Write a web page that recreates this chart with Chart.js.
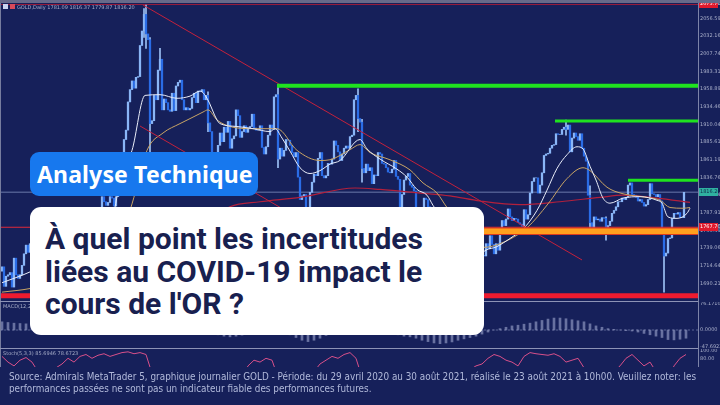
<!DOCTYPE html>
<html lang="fr">
<head>
<meta charset="utf-8">
<title>GOLD - Analyse Technique</title>
<script src="https://cdn.jsdelivr.net/npm/chart.js@4.4.1/dist/chart.umd.min.js"></script>
<style>
  html, body { margin: 0; padding: 0; }
  body {
    position: relative; width: 720px; height: 405px; overflow: hidden;
    background: #16205a; font-family: 'Noto Sans', 'DejaVu Sans', sans-serif;
  }
  .abs { position: absolute; }
  canvas { position: absolute; left: 0; }
  #topbar { left: 0; top: 0; width: 720px; height: 3px; background: #666a8a; }
  #leftbar { left: 0; top: 3px; width: 1px; height: 364px; background: #767c9e; }
  #axisline { left: 698px; top: 3px; width: 1px; height: 364px; background: #7c83a8; }
  .divider { left: 0; width: 698px; height: 1px; background: #8d93b6; }
  .mini { font: 5px 'DejaVu Sans', sans-serif; color: #a7adc8; white-space: nowrap; }
  .icon { top: 4px; width: 5px; height: 5px; }
  #tag {
    left: 30px; top: 152px; width: 228px; height: 44px; border-radius: 9px;
    background: #1778ee; color: #fff; font: 700 23px 'Noto Sans', sans-serif;
    letter-spacing: 0.15px; line-height: 44px; padding-left: 7px;
    box-sizing: border-box; white-space: nowrap;
  }
  #card { left: 30px; top: 207px; width: 454px; height: 128px; border-radius: 11px; background: #fff; }
  #headline {
    position: absolute; left: 15px; top: 16px; font: 700 30px Roboto, sans-serif;
    line-height: 32.5px; color: #18204f; white-space: nowrap;
  }
  #bottom { left: 0; top: 367px; width: 720px; height: 38px; background: #16205a; }
  #source {
    left: 9px; top: 370px; line-height: 11px; color: #b1b9da; white-space: nowrap;
    font: 10.5px 'Liberation Sans Narrow', 'DejaVu Sans Condensed', Roboto, sans-serif;
    transform-origin: 0 0;
  }
  #source span { display: inline-block; line-height: 11px; }
</style>
</head>
<body>
<canvas id="cPrice" width="720" height="298" style="top:3px"></canvas>
<canvas id="cMacd" width="720" height="46" style="top:302px"></canvas>
<canvas id="cStoch" width="720" height="40" style="top:349px"></canvas>

<div id="topbar" class="abs"></div>
<div id="leftbar" class="abs"></div>
<div id="axisline" class="abs"></div>
<div class="abs divider" style="top:301px"></div>
<div class="abs divider" style="top:348px"></div>
<div class="abs icon" style="left:3px;background:#c9d4f0"></div>
<div class="abs icon" style="left:10px;background:#d84a5a"></div>
<div class="abs mini" style="left:17px;top:4px">GOLD,Daily  1781.09 1816.37 1779.87 1816.20</div>
<div class="abs mini" style="left:3px;top:303px">MACD(12,26,9) 5.3452 -2.1708</div>
<div class="abs mini" style="left:3px;top:350px">Stoch(5,3,3) 85.6946 78.6723</div>

<div id="bottom" class="abs"></div>
<div id="source" class="abs"><span id="src1">Source: Admirals MetaTrader 5, graphique journalier GOLD - Période: du 29 avril 2020 au 30 août 2021, réalisé le 23 août 2021 à 10h00. Veuillez noter: les</span><br><span id="src2">performances passées ne sont pas un indicateur fiable des performances futures.</span></div>

<div id="tag" class="abs">Analyse Technique</div>
<div id="card" class="abs"><div id="headline">À quel point les incertitudes<br>liées au COVID-19 impact le<br>cours de l'OR ?</div></div>

<script>
// Clôtures journalières GOLD du 29/04/2020 au 23/08/2021 (estimées sur le graphique)
const firstOpen = 1707;
const closes = [
  1713, 1686, 1700,
  1702, 1705, 1685, 1725, 1702,   1697, 1702, 1715, 1731, 1743,
  1733, 1745, 1748, 1726, 1735,   1729, 1709, 1709, 1718, 1730,
  1740, 1727, 1700, 1714, 1685,   1697, 1715, 1737, 1728, 1730,
  1726, 1727, 1727, 1722, 1743,   1755, 1768, 1761, 1763, 1771,
  1772, 1781, 1769, 1775, 1774,   1784, 1795, 1810, 1803, 1798,
  1802, 1810, 1808, 1797, 1810,   1818, 1843, 1871, 1889, 1902,
  1941, 1958, 1970, 1960, 1975,   1976, 2019, 2039, 2062, 2035,
  2027, 1911, 1915, 1950, 1944,   1985, 2000, 1930, 1945, 1940,
  1930, 1928, 1953, 1929, 1963,   1968, 1971, 1944, 1930, 1933,
  1930, 1932, 1947, 1953, 1940,   1956, 1955, 1958, 1944, 1950,
  1912, 1900, 1862, 1868, 1862,   1881, 1898, 1886, 1906, 1899,
  1914, 1877, 1890, 1894, 1930,   1922, 1892, 1900, 1908, 1899,
  1905, 1907, 1924, 1905, 1902,   1902, 1908, 1878, 1869, 1879,
  1895, 1909, 1903, 1948, 1951,   1862, 1877, 1866, 1874, 1889,
  1888, 1881, 1871, 1865, 1871,   1837, 1806, 1811, 1813, 1788,
  1777, 1816, 1830, 1841, 1839,   1863, 1871, 1839, 1836, 1839,
  1856, 1855, 1862, 1887, 1881,   1872, 1860, 1869, 1877, 1880,
  1877, 1893, 1895, 1944, 1950,   1918, 1913, 1849, 1843, 1855,
  1846, 1850, 1828, 1840, 1839,   1871, 1869, 1856, 1855, 1850,
  1844, 1843, 1848, 1860, 1838,   1834, 1794, 1813, 1833, 1838,
  1842, 1826, 1823, 1818, 1795,   1776, 1776, 1784, 1808, 1806,
  1796, 1771, 1734, 1724, 1738,   1712, 1697, 1700, 1684, 1716,
  1726, 1722, 1720, 1731, 1731,   1745, 1735, 1745, 1738, 1726,
  1734, 1725, 1732, 1712, 1684,   1708, 1728, 1729, 1728, 1745,
  1738, 1756, 1744, 1731, 1745,   1736, 1764, 1777, 1770, 1779,
  1793, 1782, 1777, 1780, 1779,   1774, 1772, 1769, 1792, 1779,
  1785, 1815, 1831, 1836, 1836,   1815, 1826, 1843, 1867, 1869,
  1870, 1877, 1881, 1882, 1897,   1896, 1896, 1903, 1906, 1903,
  1909, 1872, 1891, 1898, 1893,   1888, 1897, 1877, 1866, 1859,
  1812, 1774, 1764, 1782, 1778,   1779, 1776, 1781, 1780, 1761,
  1770, 1776, 1787, 1791, 1796,   1803, 1803, 1808, 1806, 1809,
  1826, 1829, 1813, 1812, 1809,   1804, 1806, 1802, 1797, 1799,
  1806, 1828, 1814, 1813, 1810,   1813, 1804, 1763, 1728, 1732,
  1752, 1753, 1780, 1787, 1786,   1788, 1781, 1781, 1816
];

// mèches visibles : [jour, bas, haut]
const wicks = [
  [71, 2030, 2070], [72, 2015, 2075], [74, 1863, 2030], [79, 1985, 2015],
  [103, 1900, 1955], [138, 1850, 1965], [153, 1764, 1790], [178, 1900, 1959],
  [180, 1830, 1917], [214, 1677, 1712], [282, 1895, 1916], [294, 1763, 1825],
  [302, 1750, 1782], [331, 1678, 1765]
];

// moyennes mobiles : [jour, prix]
const maFast = [
  [0, 1691], [14, 1706], [20, 1715], [30, 1718], [40, 1730], [50, 1765], [56, 1790],
  [59.5, 1840], [65, 1874], [71.5, 1950], [79, 1951], [87.5, 1946], [94, 1949],
  [99, 1956], [102.5, 1946], [107.5, 1916], [109, 1911], [117.5, 1907], [125.5, 1904],
  [134, 1900], [136.5, 1904], [140, 1891], [144, 1873], [149, 1850], [154, 1842],
  [159, 1846], [164, 1855], [169, 1860], [179, 1889], [182.5, 1876], [189, 1862],
  [197.5, 1848], [202.5, 1837], [207.5, 1820], [212.5, 1812], [215.5, 1798], [220, 1780],
  [226, 1752], [232, 1730], [238, 1722], [240.5, 1733], [247.5, 1741], [255.5, 1755],
  [260.5, 1765], [267.5, 1791], [272.5, 1819], [277.5, 1849], [282.5, 1868], [287.5, 1879],
  [290.5, 1876], [294, 1852], [297, 1833], [300.5, 1808], [304, 1801], [310.5, 1808],
  [319, 1810], [327.5, 1805], [330, 1801], [333, 1782], [337.5, 1780], [342.5, 1787], [344, 1794]
];
const maMid = [
  [0, 1678], [14, 1683], [30, 1695], [45, 1712], [58, 1745], [65, 1800], [72.5, 1874],
  [80.5, 1898], [89, 1911], [95.5, 1920], [100.5, 1927], [103, 1930], [107.5, 1916],
  [115.5, 1906], [125.5, 1904], [137.5, 1904], [147.5, 1874], [159, 1860], [164, 1861],
  [174, 1875], [179, 1882], [184, 1871], [194, 1861], [204, 1847], [210.5, 1829],
  [217.5, 1815], [222.5, 1795], [228, 1778], [234, 1758], [241, 1740], [249, 1745],
  [262.5, 1767], [273, 1800], [282.5, 1835], [290.5, 1850], [294, 1846], [302.5, 1823],
  [310.5, 1814], [322.5, 1809], [329, 1805], [334, 1795], [340.5, 1794], [344, 1795]
];
const maSlow = [
  [40, 1640], [64, 1690], [89, 1745], [114, 1796], [129, 1803], [149, 1809], [176.5, 1822],
  [189, 1820], [209, 1815], [224, 1811], [239, 1804], [259, 1799], [279, 1803], [299, 1809],
  [310.5, 1812], [327.5, 1808], [344, 1802]
];

// niveaux : résistances vertes [jour de départ, prix]
const resistances = [[137.5, 1963.3], [276.5, 1914.6], [313, 1832.6]];
const supportOrange = [15, 1762.3];
const supportRed = 1672.9;
const redLevel = 1767.7;
const topLevel = 2075.7;
const lastPrice = 1816.2;
const trendHigh = [[70.5, 2075], [290, 1722.5]];
const trendLow = [[69, 1907.7], [200, 1697.3]];

const priceTicks = [2056.590, 2032.165, 2007.740, 1983.315, 1958.890, 1934.465, 1910.040,
  1885.615, 1861.190, 1836.765, 1812.340, 1787.915, 1763.490, 1739.065, 1714.640, 1690.215];

// MACD et stochastique, un point tous les 3 jours
const macdStep = 3;
const macd = [
  24, 22, 20, 19, 18, 17, 16, 15, 12, 10, 8, 6, 4, 6, 9, 12, 15, 17, 18, 22,
  32, 45, 55, 62, 70, 60, 55, 50, 45, 40, 34, 28, 22, 12, 2, -8, -14, -18, -20, -18,
  -15, -12, -10, -9, -8, -6, -4, -8, -14, -22, -30, -34, -30, -24, -16, -8, -2, 2, 6, 12,
  10, 4, -2, -6, -8, -10, -14, -18, -20, -24, -30, -34, -38, -40, -38, -35, -30, -26, -22, -18,
  -12, -6, 0, 4, 8, 12, 14, 17, 20, 24, 28, 32, 35, 35, 33, 30, 27, 24, 18, 12,
  8, 4, 2, 0, -2, -3, -6, -10, -14, -18, -22, -28, -29, -27, -24
];
const macdTicks = [76.1710, 0, -47.6922];
const stoch = [
  85, 70, 60, 75, 82, 70, 45, 30, 40, 55, 65, 80, 70, 85, 90, 80, 88, 92, 85, 90,
  95, 97, 92, 95, 90, 40, 55, 30, 50, 35, 45, 55, 40, 15, 10, 30, 45, 35, 50, 45,
  30, 60, 75, 70, 80, 75, 30, 20, 15, 10, 8, 20, 45, 65, 75, 85, 80, 90, 95, 80,
  30, 25, 40, 50, 35, 30, 20, 40, 35, 15, 10, 20, 10, 25, 35, 45, 40, 30, 50, 60,
  65, 80, 90, 85, 75, 70, 60, 85, 95, 92, 90, 88, 92, 85, 70, 75, 80, 55, 10, 20,
  35, 20, 45, 60, 80, 90, 75, 60, 70, 45, 10, 25, 60, 80, 90
];
const stochTicks = [100, 80];

// ---- configuration commune ----
const X_MIN = -1, X_MAX = 348;
const UP = '#8ab6f7', DOWN = '#2a6ce6';

function yAxis(min, max, list, digits) {
  return {
    position: 'right', min: min, max: max,
    grid: { display: false, drawTicks: false }, border: { display: false },
    afterBuildTicks: s => { s.ticks = list.map(v => ({ value: v })); },
    afterFit: s => { s.width = 22; s.paddingTop = 0; s.paddingBottom = 0; },
    ticks: {
      autoSkip: false, padding: 2, color: '#a9afca',
      font: { size: 5, family: 'DejaVu Sans' },
      callback: v => Number(v).toFixed(digits)
    }
  };
}
function baseOptions(yScale) {
  return {
    responsive: false, animation: false, devicePixelRatio: 1, events: [],
    layout: { padding: 0 },
    plugins: { legend: { display: false }, tooltip: { enabled: false } },
    scales: {
      x: { type: 'linear', min: X_MIN, max: X_MAX, offset: false, display: false },
      y: yScale
    }
  };
}
const pts = arr => arr.map(p => ({ x: p[0], y: p[1] }));
const level = (x0, v) => [{ x: x0, y: v }, { x: X_MAX, y: v }];
function lineDs(data, color, width, order, extra) {
  return Object.assign({
    type: 'line', data: data, borderColor: color, borderWidth: width,
    pointRadius: 0, tension: 0, order: order
  }, extra || {});
}

// étiquettes de prix sur l'axe de droite
const priceTags = {
  id: 'priceTags',
  afterDraw(chart) {
    const { ctx, chartArea, scales } = chart;
    [[topLevel, '#e0192c', '#ffffff'], [redLevel, '#e0192c', '#ffffff'], [lastPrice, '#2fb1a1', '#10284a']]
      .forEach(([v, bg, fg]) => {
        const py = Math.round(scales.y.getPixelForValue(v));
        ctx.fillStyle = bg;
        ctx.fillRect(chartArea.right + 1, py - 4, 19, 8);
        ctx.fillStyle = fg;
        ctx.font = '5px DejaVu Sans';
        ctx.textBaseline = 'middle';
        ctx.fillText(v.toFixed(2), chartArea.right + 2, py);
      });
  }
};

// ---- graphique principal ----
const bodies = closes.map((c, i) => ({ x: i, y: [i ? closes[i - 1] : firstOpen, c] }));

new Chart(document.getElementById('cPrice'), {
  type: 'bar',
  data: {
    datasets: [
      ...resistances.map((r, i) => lineDs(level(r[0], r[1]), '#1fe31f', i === 0 ? 4 : 3, 1)),
      lineDs(level(supportOrange[0], supportOrange[1]), '#ffa01e', 5.5, 2),
      lineDs(level(supportOrange[0], supportOrange[1]), '#dd3a1c', 7.5, 3),
      lineDs(level(X_MIN, supportRed), '#ee1b2f', 5, 3),
      lineDs(level(X_MIN, redLevel), '#e0283a', 1, 4),
      lineDs(pts(trendHigh), '#c4213c', 1, 5),
      lineDs(pts(trendLow), '#c4213c', 1, 5),
      lineDs(pts(maFast), '#e9edf9', 1, 10, { cubicInterpolationMode: 'monotone' }),
      lineDs(pts(maMid), '#c9a465', 1, 11, { cubicInterpolationMode: 'monotone' }),
      lineDs(pts(maSlow), '#b3203c', 1.2, 12, { cubicInterpolationMode: 'monotone' }),
      {
        type: 'bar', data: bodies, grouped: false, barThickness: 1.6, order: 20,
        backgroundColor: c => (c.raw && c.raw.y[1] >= c.raw.y[0] ? UP : DOWN)
      },
      {
        type: 'bar', data: wicks.map(w => ({ x: w[0], y: [w[1], w[2]] })),
        grouped: false, barThickness: 1, order: 21, backgroundColor: '#9cc0f5'
      },
      lineDs(level(X_MIN, lastPrice), '#6b79ab', 1, 30),
      lineDs(level(X_MIN, topLevel), '#9b1c3c', 1, 30)
    ]
  },
  options: baseOptions(yAxis(1665.76, 2077.74, priceTicks, 3)),
  plugins: [priceTags]
});

// ---- MACD ----
new Chart(document.getElementById('cMacd'), {
  type: 'bar',
  data: {
    datasets: [
      lineDs(level(X_MIN, 0), 'rgba(150,158,196,0.55)', 1, 0, { borderDash: [2, 2] }),
      {
        type: 'bar', data: macd.map((v, i) => ({ x: i * macdStep, y: v })),
        barThickness: 2, order: 1, backgroundColor: 'rgba(160,168,206,0.6)'
      }
    ]
  },
  options: baseOptions(yAxis(-52.74, 82.04, macdTicks, 4))
});

// ---- Stochastique ----
new Chart(document.getElementById('cStoch'), {
  type: 'line',
  data: {
    datasets: [
      lineDs(stoch.map((v, i) => ({ x: i * macdStep, y: v })), '#d9508a', 1, 1)
    ]
  },
  options: baseOptions(yAxis(-0.79, 104.47, stochTicks, 2))
});

// ajuste la note de bas de page à la largeur de l'image
const src = document.getElementById('source');
const w1 = document.getElementById('src1').getBoundingClientRect().width;
src.style.transform = 'scaleX(' + (687 / w1) + ')';
</script>
</body>
</html>
